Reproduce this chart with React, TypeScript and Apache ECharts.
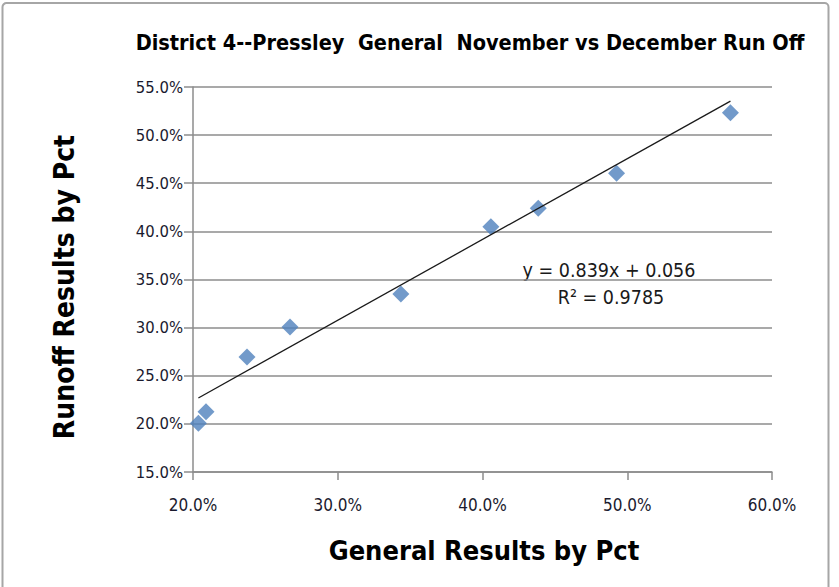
import React, { useEffect, useRef } from "react";
import * as echarts from "echarts";

const generalPct = [0.2037, 0.209, 0.2373, 0.267, 0.3436, 0.4058, 0.4385, 0.4926, 0.5713];
const runoffPct = [0.2006, 0.2126, 0.2695, 0.3006, 0.3349, 0.4049, 0.424, 0.4603, 0.5233];
const slope = 0.839;
const intercept = 0.056;
const rSquared = "0.9785";
const titleText = "District 4--Pressley  General  November vs December Run Off";
const xAxisTitle = "General Results by Pct";
const yAxisTitle = "Runoff Results by Pct";

const FONT = "'DejaVu Sans Condensed', 'Open Sans', sans-serif";

export default function App() {
  const ref = useRef<HTMLDivElement>(null);
  useEffect(() => {
    if (!ref.current) return;
    const chart = echarts.init(ref.current, undefined, { renderer: "svg" });
    const xMin = Math.min(...generalPct);
    const xMax = Math.max(...generalPct);
    const trend = [
      [xMin, slope * xMin + intercept],
      [xMax, slope * xMax + intercept],
    ];
    const pct = (v: number) => (v * 100).toFixed(1) + "%";
    chart.setOption({
      animation: false,
      backgroundColor: "#ffffff",
      grid: { left: 193, right: 67, top: 87, bottom: 115 },
      xAxis: {
        type: "value",
        min: 0.2,
        max: 0.6,
        interval: 0.1,
        axisLine: { show: true, lineStyle: { color: "#8c8c8c", width: 1.5 } },
        axisTick: { show: true, length: 8, lineStyle: { color: "#8c8c8c", width: 1.5 } },
        splitLine: { show: false },
        axisLabel: { formatter: pct, color: "#1a1a2e", fontSize: 17, fontFamily: FONT, margin: 24 },
      },
      yAxis: {
        type: "value",
        min: 0.15,
        max: 0.55,
        interval: 0.05,
        axisLine: { show: true, lineStyle: { color: "#8c8c8c", width: 1.5 } },
        axisTick: { show: true, length: 9, lineStyle: { color: "#8c8c8c", width: 1.5 } },
        splitLine: { show: true, lineStyle: { color: "#8c8c8c", width: 1.5 } },
        axisLabel: { formatter: pct, color: "#1a1a2e", fontSize: 16.5, fontFamily: FONT, margin: 10 },
      },
      series: [
        {
          type: "scatter",
          data: generalPct.map((x, i) => [x, runoffPct[i]]),
          symbol: "diamond",
          symbolSize: 17,
          itemStyle: { color: "#4f81bd" },
          z: 3,
        },
        {
          type: "line",
          data: trend,
          symbol: "none",
          lineStyle: { color: "#1a1a1a", width: 1.3 },
          z: 4,
        },
      ],
      graphic: [
        {
          type: "rect",
          shape: { x: 2.5, y: 3, width: 826, height: 600, r: 4 },
          style: { fill: "none", stroke: "#a6a6a6", lineWidth: 2 },
          silent: true,
        },
        {
          type: "text",
          x: 470,
          y: 42,
          style: {
            text: titleText,
            fontSize: 21.5,
            fontWeight: "bold",
            fontFamily: FONT,
            fill: "#000",
            align: "center",
            verticalAlign: "middle",
          },
        },
        {
          type: "text",
          x: 484,
          y: 550,
          style: {
            text: xAxisTitle,
            fontSize: 27,
            fontWeight: "bold",
            fontFamily: FONT,
            fill: "#000",
            align: "center",
            verticalAlign: "middle",
          },
        },
        {
          type: "text",
          x: 64,
          y: 287,
          rotation: Math.PI / 2,
          style: {
            text: yAxisTitle,
            fontSize: 28,
            fontWeight: "bold",
            fontFamily: FONT,
            fill: "#000",
            align: "center",
            verticalAlign: "middle",
          },
        },
        {
          type: "text",
          x: 609,
          y: 270,
          style: {
            text: "y = " + slope + "x + " + intercept,
            fontSize: 19.5,
            fontFamily: FONT,
            fill: "#1a1a1a",
            align: "center",
            verticalAlign: "middle",
          },
        },
        {
          type: "text",
          x: 611,
          y: 297,
          style: {
            text: "R² = " + rSquared,
            fontSize: 19.5,
            fontFamily: FONT,
            fill: "#1a1a1a",
            align: "center",
            verticalAlign: "middle",
          },
        },
      ],
    });
    return () => chart.dispose();
  }, []);
  return (
    <div
      ref={ref}
      style={{ position: "absolute", left: 0, top: 0, width: 839, height: 587 }}
    />
  );
}
